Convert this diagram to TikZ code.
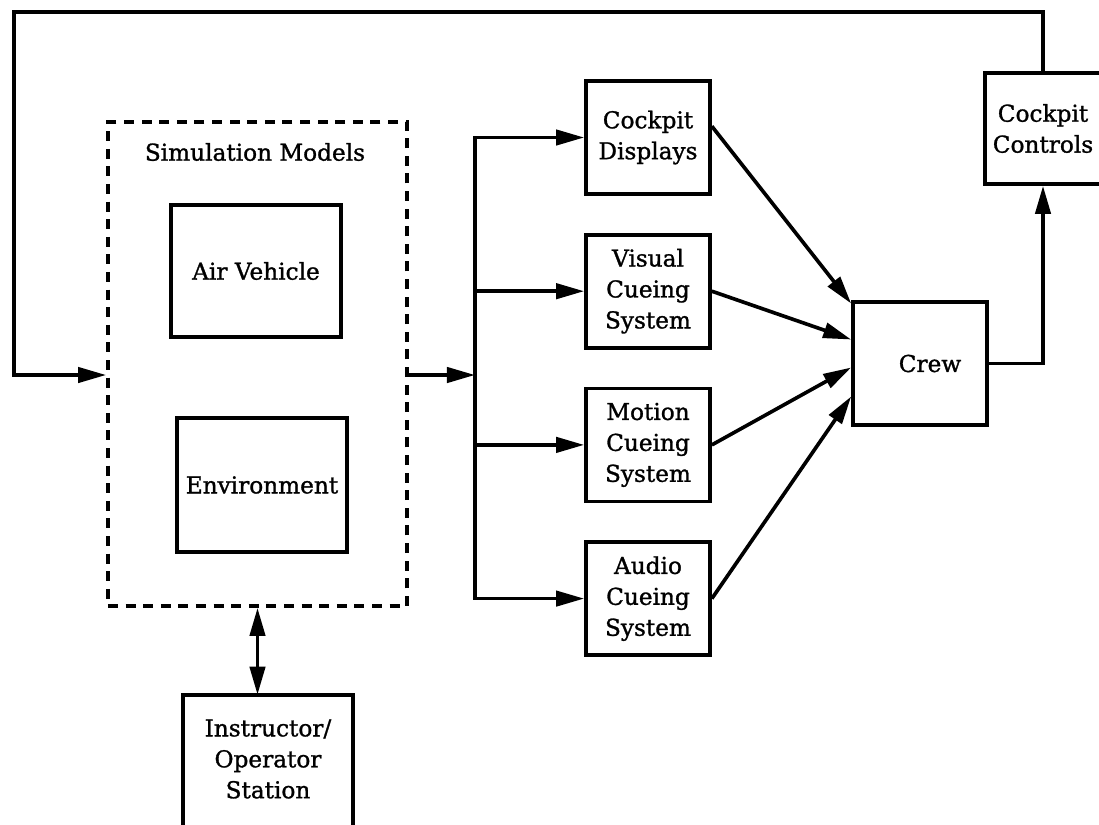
\documentclass[tikz,border=0pt]{standalone}
\usepackage{fontspec}
\setmainfont{DejaVu Serif}[FakeBold=1.2]
\usetikzlibrary{calc}
\usetikzlibrary{positioning}
\usetikzlibrary{chains,arrows.meta}
\tikzset{
	>={Triangle[length=0.7cm,width=0.38cm]},
	block/.style={
		rectangle,
		draw=black, line width=2.6pt,
		align=center,
		inner sep=2pt},
	cuebox/.style={
		block,
		minimum width=3.1cm,
		minimum height=2.825cm,
		on chain},
	modelbox/.style={
		block,
		minimum width=4.25cm,
		minimum height=3.3cm},
	dashbox/.style={
		draw, line width=2.6pt,
		dash pattern=on 0.25cm off 0.19cm,
		minimum width=7.475cm,
		minimum height=12.1cm},
	line/.style={draw, line width=2.6pt, ->},
}

\begin{document}
\begin{tikzpicture}
		[x=0.025cm, y=-0.025cm, node distance=0.925cm, start chain=going below,
		 font=\fontsize{16.5}{22}\selectfont]
		\useasboundingbox (0,0) rectangle (1099,824);
		% simulation models and what they hold
		\node[dashbox] (models) at (257.5,364) {};
		\node (simlabel) at (255,152) {Simulation Models};
		\node[modelbox] (air) at (256,271) {Air Vehicle};
		\node[modelbox, minimum height=3.35cm] (env) at (262,485) {Environment};
		% cueing systems, one below the other
		\node[cuebox] (displays) at (648,137.5) {Cockpit\\Displays};
		\node[cuebox] (visual) {Visual\\Cueing\\System};
		\node[cuebox] (motion) {Motion\\Cueing\\System};
		\node[cuebox] (audio) {Audio\\Cueing\\System};
		\node[block, minimum width=3.35cm, minimum height=3.075cm] (crew) at (920,363.5) {\hspace{0.5cm}Crew};
		\node[block, minimum width=2.9cm, minimum height=2.775cm] (controls) at (1043,128.5) {Cockpit\\Controls};
		% instructor station runs off the bottom edge
		\node[minimum width=4.25cm, minimum height=3.2cm, align=center] (ios) at (268,759) {Instructor/\\Operator\\Station};
		\draw[line width=2.6pt] ($(ios.south west)+(0,10)$) |- (ios.north east) -- ++(0,150);
		% models out to the split, then to each cueing system
		\coordinate (split) at (475,375);
		\draw[line] (models.east |- split) -- (split);
		\draw[line width=2.6pt, line cap=rect] (split |- displays) -- (split |- audio);
		\foreach \n in {displays,visual,motion,audio}
			\draw[line] (split |- \n) -- (\n);
		% cueing systems into the crew
		\foreach \a/\dy in {displays.10/-60,visual.east/-24,motion.east/4,audio.east/33}
			\draw[line] (\a) -- ($(crew.west)+(0,\dy)$);
		% crew to controls and back round to the models
		\draw[line] (crew.east) -| (controls.south);
		\coordinate (loop) at (14,12);
		\draw[line] (controls.north) |- (loop) |- (models.west |- split);
		\draw[line, <->] (models.south) -- (models.south |- ios.north);
\end{tikzpicture}
\end{document}
